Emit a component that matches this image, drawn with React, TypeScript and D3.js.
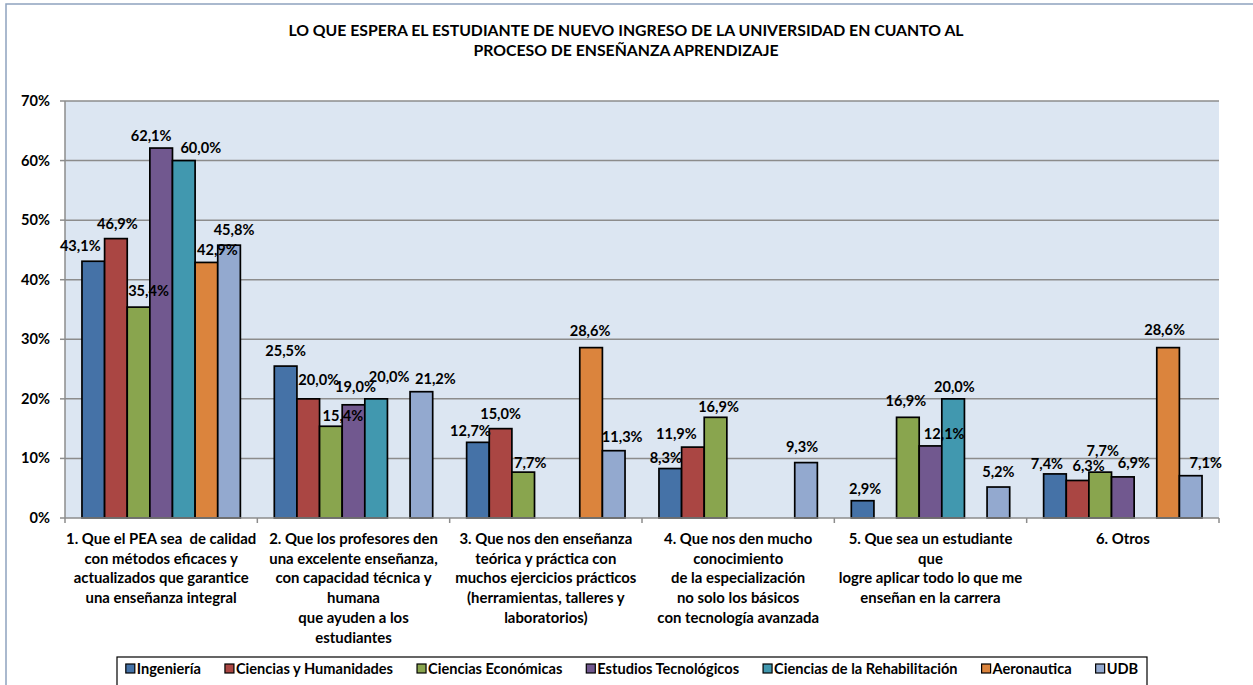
import React, { useEffect, useRef } from "react";
import * as d3 from "d3";

// ---------- data ----------
const titleLines = [
  "LO QUE ESPERA EL ESTUDIANTE DE NUEVO INGRESO DE LA UNIVERSIDAD EN CUANTO AL",
  "PROCESO DE ENSEÑANZA APRENDIZAJE",
];

const categoryLabels: string[][] = [
  ["1. Que el PEA sea  de calidad", "con métodos eficaces y", "actualizados que garantice", "una enseñanza integral"],
  ["2. Que los profesores den", "una excelente enseñanza,", "con capacidad técnica y", "humana", "que ayuden a los", "estudiantes"],
  ["3. Que nos den enseñanza", "teórica y práctica con", "muchos ejercicios prácticos", "(herramientas, talleres y", "laboratorios)"],
  ["4. Que nos den mucho", "conocimiento", "de la especialización", "no solo los básicos", "con tecnología avanzada"],
  ["5. Que sea un estudiante", "que", "logre aplicar todo lo que me", "enseñan en la carrera"],
  ["6. Otros"],
];

const seriesNames = [
  "Ingeniería",
  "Ciencias y Humanidades",
  "Ciencias Económicas",
  "Estudios Tecnológicos",
  "Ciencias de la Rehabilitación",
  "Aeronautica",
  "UDB",
];

const ingenieria = [43.1, 25.5, 12.7, 8.3, 2.9, 7.4];
const cienciasHumanidades = [46.9, 20.0, 15.0, 11.9, null, 6.3];
const cienciasEconomicas = [35.4, 15.4, 7.7, 16.9, 16.9, 7.7];
const estudiosTecnologicos = [62.1, 19.0, null, null, 12.1, 6.9];
const cienciasRehabilitacion = [60.0, 20.0, null, null, 20.0, null];
const aeronautica = [42.9, null, 28.6, null, null, 28.6];
const udb = [45.8, 21.2, 11.3, 9.3, 5.2, 7.1];

const seriesValues: (number | null)[][] = [
  ingenieria,
  cienciasHumanidades,
  cienciasEconomicas,
  estudiosTecnologicos,
  cienciasRehabilitacion,
  aeronautica,
  udb,
];

const yTicks = [0, 10, 20, 30, 40, 50, 60, 70];

// ---------- styles ----------
const seriesColors = ["#4572A7", "#AA4643", "#89A54E", "#71588F", "#4198AF", "#DB843D", "#93A9CF"];

// manual data-label placement (dx from bar centre, gap above bar top) as in the reference
const labelNudges: [number, number][][] = [
  [[-13, 15], [0, 15], [-7.5, 11], [-4.5, 11], [2.5, 11.5], [-8, 10]],
  [[1.5, 14.5], [10.5, 19], [0, 15], [-16.5, 13], [0, 14], [11, 14]],
  [[10, 16], [12, 10], [7, 9.5], [3, 10.6], [-2, 16.6], [2.5, 21]],
  [[-10, 12], [2, 17.5], [0, 14], [0, 14], [13.7, 11.6], [11, 14]],
  [[17, 13], [13, 22], [0, 14], [0, 14], [1.3, 11.5], [0, 14]],
  [[11, 12], [0, 14], [-1, 17], [0, 14], [0, 14], [-3.5, 18]],
  [[5, 15], [14, 12.6], [8.5, 13.4], [-4, 16], [0, 14.7], [15, 13]],
];

const FONT = "Lato, 'Open Sans', sans-serif";
const W = 1253;
const H = 685;
const M = { left: 65, right: 1219, top: 101, bottom: 518 };
const FS_LABEL = 14.6;
const FS_CAT = 14.9;
const FS_LEG = 14.6;
const FS_TITLE = 15.8;

export default function App() {
  const ref = useRef<SVGSVGElement | null>(null);

  useEffect(() => {
    document.body.style.margin = "0";
    const svg = d3.select(ref.current!);
    svg.selectAll("*").remove();

    svg.append("rect").attr("x", 0).attr("y", 0).attr("width", W).attr("height", H).attr("fill", "#ffffff");

    // outer chart frame
    svg
      .append("rect")
      .attr("x", 6)
      .attr("y", 4)
      .attr("width", W + 20)
      .attr("height", H + 20)
      .attr("fill", "none")
      .attr("stroke", "#8EA3BF")
      .attr("stroke-width", 1.5);

    // title
    svg
      .append("g")
      .selectAll("text")
      .data(titleLines)
      .join("text")
      .attr("x", 626)
      .attr("y", (_d, i) => 35.5 + i * 20)
      .attr("text-anchor", "middle")
      .attr("font-family", FONT)
      .attr("font-weight", 700)
      .attr("font-size", FS_TITLE)
      .attr("fill", "#000")
      .text((d) => d);

    const catIds = categoryLabels.map((_d, i) => String(i));
    const x0 = d3.scaleBand<string>().domain(catIds).range([M.left, M.right]).padding(0);
    const bw = x0.bandwidth();
    const x1 = d3
      .scaleBand<string>()
      .domain(seriesNames)
      .range([(bw * 0.75) / 8.5, (bw * 7.75) / 8.5])
      .padding(0);
    const y = d3.scaleLinear().domain([0, 70]).range([M.bottom, M.top]);

    // plot background
    svg
      .append("rect")
      .attr("x", M.left)
      .attr("y", M.top)
      .attr("width", M.right - M.left)
      .attr("height", M.bottom - M.top)
      .attr("fill", "#DCE6F2");

    // gridlines
    svg
      .append("g")
      .selectAll("line")
      .data(yTicks.filter((t) => t > 0))
      .join("line")
      .attr("x1", M.left)
      .attr("x2", M.right)
      .attr("y1", (d) => y(d))
      .attr("y2", (d) => y(d))
      .attr("stroke", "#8C8C8C")
      .attr("stroke-width", 1.5);

    // y axis
    const ya = svg.append("g");
    ya.append("line")
      .attr("x1", M.left)
      .attr("x2", M.left)
      .attr("y1", M.top)
      .attr("y2", M.bottom)
      .attr("stroke", "#8C8C8C")
      .attr("stroke-width", 1.5);
    ya.selectAll("line.t")
      .data(yTicks)
      .join("line")
      .attr("class", "t")
      .attr("x1", M.left - 5)
      .attr("x2", M.left)
      .attr("y1", (d) => y(d))
      .attr("y2", (d) => y(d))
      .attr("stroke", "#8C8C8C")
      .attr("stroke-width", 1.5);
    ya.selectAll("text")
      .data(yTicks)
      .join("text")
      .attr("x", 50)
      .attr("y", (d) => y(d) + 5)
      .attr("text-anchor", "end")
      .attr("font-family", FONT)
      .attr("font-weight", 700)
      .attr("font-size", FS_LABEL)
      .attr("fill", "#000")
      .text((d) => `${d}%`);

    // bars
    const barsG = svg.append("g");
    seriesNames.forEach((s, si) => {
      seriesValues[si].forEach((v, ci) => {
        if (v == null) return;
        barsG
          .append("rect")
          .attr("x", x0(String(ci))! + x1(s)!)
          .attr("y", y(v))
          .attr("width", x1.bandwidth())
          .attr("height", y(0) - y(v))
          .attr("fill", seriesColors[si])
          .attr("stroke", "#000")
          .attr("stroke-width", 1.7);
      });
    });

    // x axis
    const xa = svg.append("g");
    xa.append("line")
      .attr("x1", M.left)
      .attr("x2", M.right)
      .attr("y1", M.bottom)
      .attr("y2", M.bottom)
      .attr("stroke", "#8C8C8C")
      .attr("stroke-width", 1.5);
    const boundaries = catIds.map((c) => x0(c)!).concat([M.right]);
    xa.selectAll("line.t")
      .data(boundaries)
      .join("line")
      .attr("class", "t")
      .attr("x1", (d) => d)
      .attr("x2", (d) => d)
      .attr("y1", M.bottom)
      .attr("y2", M.bottom + 5)
      .attr("stroke", "#8C8C8C")
      .attr("stroke-width", 1.5);

    // data labels
    const labG = svg.append("g");
    seriesNames.forEach((s, si) => {
      seriesValues[si].forEach((v, ci) => {
        if (v == null) return;
        const [dx, gap] = labelNudges[si][ci];
        const cx = x0(String(ci))! + x1(s)! + x1.bandwidth() / 2 + dx;
        const cy = y(v) - gap;
        labG
          .append("text")
          .attr("x", cx)
          .attr("y", cy + 5)
          .attr("text-anchor", "middle")
          .attr("font-family", FONT)
          .attr("font-weight", 700)
          .attr("font-size", FS_LABEL)
          .attr("fill", "#000")
          .text(v.toFixed(1).replace(".", ",") + "%");
      });
    });

    // category labels
    const catG = svg.append("g");
    categoryLabels.forEach((lines, ci) => {
      const cx = x0(String(ci))! + bw / 2;
      lines.forEach((ln, li) => {
        catG
          .append("text")
          .attr("x", cx)
          .attr("y", 544 + li * 19.7)
          .attr("text-anchor", "middle")
          .attr("font-family", FONT)
          .attr("font-weight", 700)
          .attr("font-size", FS_CAT)
          .attr("fill", "#000")
          .style("white-space", "pre")
          .text(ln);
      });
    });

    // legend
    const legG = svg.append("g");
    const box = { x: 117, y: 657, w: 1030, h: 32 };
    legG
      .append("rect")
      .attr("x", box.x)
      .attr("y", box.y)
      .attr("width", box.w)
      .attr("height", box.h)
      .attr("fill", "#fff")
      .attr("stroke", "#000")
      .attr("stroke-width", 1.2);
    const items = seriesNames.map((name, i) => {
      const g = legG.append("g");
      g.append("rect")
        .attr("width", 9)
        .attr("height", 9)
        .attr("y", -9.5)
        .attr("fill", seriesColors[i])
        .attr("stroke", "#000")
        .attr("stroke-width", 1.2);
      const t = g
        .append("text")
        .attr("x", 11)
        .attr("y", 0)
        .attr("font-family", FONT)
        .attr("font-weight", 700)
        .attr("font-size", FS_LEG)
        .attr("fill", "#000")
        .text(name);
      const tw = (t.node() as SVGTextElement).getComputedTextLength();
      return { g, w: 11 + tw };
    });
    const gapL = 24;
    const total = d3.sum(items, (d) => d.w) + gapL * (items.length - 1);
    let cur = box.x + (box.w - total) / 2;
    const ly = 673.5;
    items.forEach((it) => {
      it.g.attr("transform", `translate(${cur},${ly})`);
      cur += it.w + gapL;
    });
  }, []);

  return (
    <svg
      ref={ref}
      width={W}
      height={H}
      style={{ position: "absolute", left: 0, top: 0, display: "block" }}
    />
  );
}
